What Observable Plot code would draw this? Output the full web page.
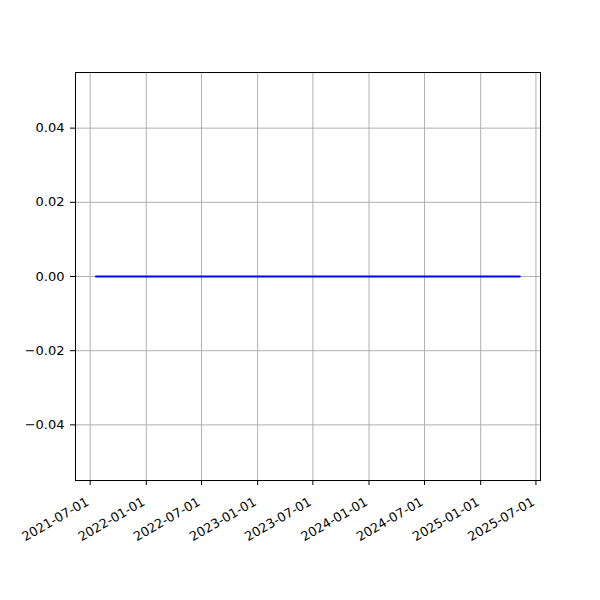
<!DOCTYPE html>
<html>
<head>
<meta charset="utf-8">
<script src="https://cdn.jsdelivr.net/npm/d3@7"></script>
<script src="https://cdn.jsdelivr.net/npm/@observablehq/plot@0.6"></script>
<style>
  html, body { margin: 0; padding: 0; background: white; }
</style>
</head>
<body>
<div id="chart"></div>
<script>
// Data: a flat series at zero
const dates = ["2021-07-20", "2022-01-01", "2022-07-01", "2023-01-01", "2023-07-01", "2024-01-01", "2024-07-01", "2025-01-01", "2025-05-09"];
const values = [0, 0, 0, 0, 0, 0, 0, 0, 0];
const xTickLabels = ["2021-07-01", "2022-01-01", "2022-07-01", "2023-01-01", "2023-07-01", "2024-01-01", "2024-07-01", "2025-01-01", "2025-07-01"];
const yTicks = [-0.04, -0.02, 0, 0.02, 0.04];

const data = dates.map((d, i) => ({date: new Date(d + "T00:00:00Z"), value: values[i]}));
const xTicks = xTickLabels.map(d => new Date(d + "T00:00:00Z"));

const fmtY = v => (v < 0 ? "\u2212" : "") + Math.abs(v).toFixed(2);
const fmtX = d => d3.utcFormat("%Y-%m-%d")(d);

const chart = Plot.plot({
  width: 600,
  height: 600,
  marginLeft: 75,
  marginRight: 60,
  marginTop: 72,
  marginBottom: 120,
  style: {fontFamily: "DejaVu Sans", fontSize: "13px", background: "white", color: "black"},
  x: {type: "utc", domain: [new Date("2021-05-14T00:00:00Z"), new Date("2025-07-16T00:00:00Z")]},
  y: {domain: [-0.055, 0.055]},
  marks: [
    Plot.gridX(xTicks, {stroke: "#b0b0b0", strokeOpacity: 1, strokeWidth: 1}),
    Plot.gridY(yTicks, {stroke: "#b0b0b0", strokeOpacity: 1, strokeWidth: 1}),
    Plot.line(data, {x: "date", y: "value", stroke: "#0000ff", strokeWidth: 2}),
    Plot.frame({stroke: "black", strokeWidth: 1}),
    Plot.axisY(yTicks, {tickFormat: fmtY, tickSize: 5, tickPadding: 6, label: null, fontSize: 13}),
    Plot.axisX(xTicks, {tickFormat: () => "", tickSize: 5, label: null}),
    Plot.text(xTicks, {
      x: d => d,
      text: fmtX,
      frameAnchor: "bottom",
      rotate: -30,
      textAnchor: "end",
      lineAnchor: "top",
      dx: -5,
      dy: 16,
      fontSize: 12.8,
      fill: "black"
    })
  ]
});
document.getElementById("chart").appendChild(chart);
</script>
</body>
</html>
